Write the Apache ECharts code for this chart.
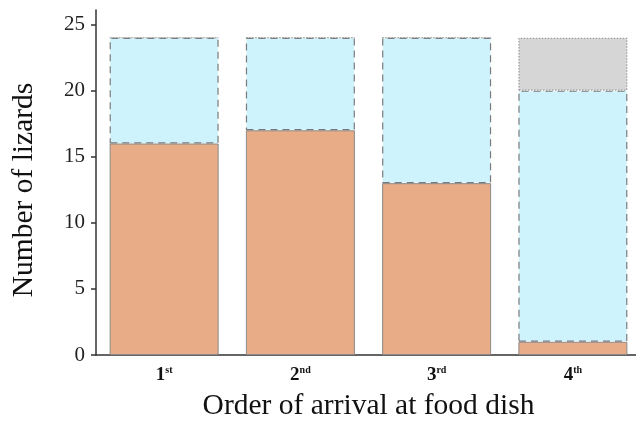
<!DOCTYPE html>
<html>
<head>
<meta charset="utf-8">
<script src="https://cdn.jsdelivr.net/npm/echarts@6/dist/echarts.min.js"></script>
<style>html,body{margin:0;padding:0;background:#fff}#c{width:636px;height:421px}</style>
</head>
<body>
<div id="c"></div>
<script>
const categories = ['1', '2', '3', '4'];
const suffixes = ['st', 'nd', 'rd', 'th'];
const fedValues = [16, 17, 13, 1];
const notFedValues = [8, 7, 11, 19];
const absentValues = [0, 0, 0, 4];
const yTicks = [0, 5, 10, 15, 20, 25];

const chart = echarts.init(document.getElementById('c'), null, {renderer: 'canvas'});
const font = 'Liberation Serif, Times New Roman, serif';
chart.setOption({
  animation: false,
  grid: {left: 96, right: -5, top: 10, bottom: 66, containLabel: false, outerBoundsMode: 'none'},
  xAxis: {
    type: 'category',
    data: categories,
    name: 'Order of arrival at food dish',
    nameLocation: 'middle',
    nameGap: 36,
    nameTextStyle: {fontFamily: font, fontSize: 29.5, color: '#111'},
    axisLine: {lineStyle: {color: '#333', width: 1.5}},
    axisTick: {show: false},
    axisLabel: {
      margin: 10,
      formatter: function (v, i) { return '{b|' + v + '}{s|' + suffixes[i] + '}'; },
      rich: {
        b: {fontFamily: font, fontSize: 19, fontWeight: 'bold', color: '#111', lineHeight: 20},
        s: {fontFamily: font, fontSize: 10, fontWeight: 'bold', color: '#111', verticalAlign: 'top', lineHeight: 11}
      }
    }
  },
  yAxis: {
    type: 'value',
    min: 0,
    max: 26.1,
    interval: 5,
    name: 'Number of lizards',
    nameLocation: 'middle',
    nameGap: 57,
    nameTextStyle: {fontFamily: font, fontSize: 29.5, color: '#111', padding: [0, 15, 0, 0]},
    axisLine: {show: true, lineStyle: {color: '#333', width: 1.5}},
    axisTick: {show: true, length: 5, lineStyle: {color: '#333', width: 1.5}, customValues: yTicks},
    axisLabel: {fontFamily: font, fontSize: 21, color: '#222', margin: 11, customValues: yTicks},
    splitLine: {show: false}
  },
  series: [
    {
      type: 'bar', stack: 'a', data: fedValues, barWidth: '80%',
      itemStyle: {color: '#E8AC86', borderColor: '#8a8a8a', borderWidth: 1}
    },
    {
      type: 'bar', stack: 'a', data: notFedValues,
      itemStyle: {color: '#CFF3FC', borderColor: '#7a7a7a', borderWidth: 1.2, borderType: [7, 5]}
    },
    {
      type: 'bar', stack: 'a', data: absentValues,
      itemStyle: {color: '#D6D6D6', borderColor: '#9a9a9a', borderWidth: 1.2, borderType: [1.5, 1.5]}
    }
  ]
});
</script>
</body>
</html>
